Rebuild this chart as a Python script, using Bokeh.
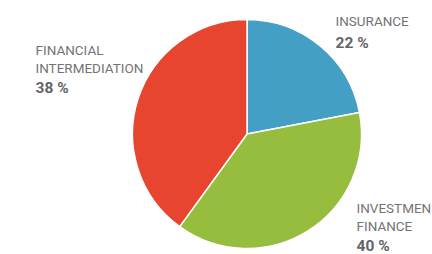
import numpy as np
from bokeh.plotting import figure
from bokeh.models import Range1d, ColumnDataSource
from bokeh.core.properties import value
from bokeh.embed import file_html
from bokeh.resources import INLINE

# Data
categories = ["INSURANCE", "INVESTMENT FINANCE", "FINANCIAL INTERMEDIATION"]
shares = [22, 38, 40]            # slice sizes as drawn
pct_labels = ["22 %", "40 %", "38 %"]  # labels as printed
name_lines = [["INSURANCE"], ["INVESTMEN", "FINANCE"], ["FINANCIAL", "INTERMEDIATION"]]
colors = ["#449fc5", "#97bd3f", "#e7452f"]

W, H = 432, 254
p = figure(width=W, height=H, output_backend="svg", toolbar_location=None,
           x_range=Range1d(0, W), y_range=Range1d(0, H), min_border=0)
p.axis.visible = False
p.grid.visible = False
p.outline_line_color = None
p.background_fill_color = "white"
p.border_fill_color = "white"

vals = np.array(shares, dtype=float)
frac = vals / vals.sum()
cum = np.concatenate([[0], np.cumsum(frac)])
start = np.pi / 2 - cum[:-1] * 2 * np.pi
end = np.pi / 2 - cum[1:] * 2 * np.pi

src = ColumnDataSource(dict(start=start, end=end, color=colors))
p.wedge(x=246.5, y=H - 133.5, radius=114.5, start_angle="start", end_angle="end",
        direction="clock", fill_color="color", line_color="white", line_width=1.5,
        source=src)

font = value("Roboto")
label_color = "#747474"
pct_color = "#636466"

lx = [335, 356, 35]
first_base = [20.5, 207, 49]
pct_base = [42.5, 245.5, 87.5]

tx, ty, tt = [], [], []
for i, lines in enumerate(name_lines):
    for j, ln in enumerate(lines):
        tx.append(lx[i]); ty.append(H - (first_base[i] + 18.5 * j)); tt.append(ln)
p.text(x=tx, y=ty, text=tt, text_font=font, text_font_size="13.5px",
       text_color=label_color, text_baseline="alphabetic", text_align="left")
p.text(x=lx, y=[H - b for b in pct_base], text=pct_labels, text_font=font,
       text_font_size="15.5px", text_font_style="bold", text_color=pct_color,
       text_baseline="alphabetic", text_align="left")

open("out.html", "w").write(file_html(p, INLINE))
